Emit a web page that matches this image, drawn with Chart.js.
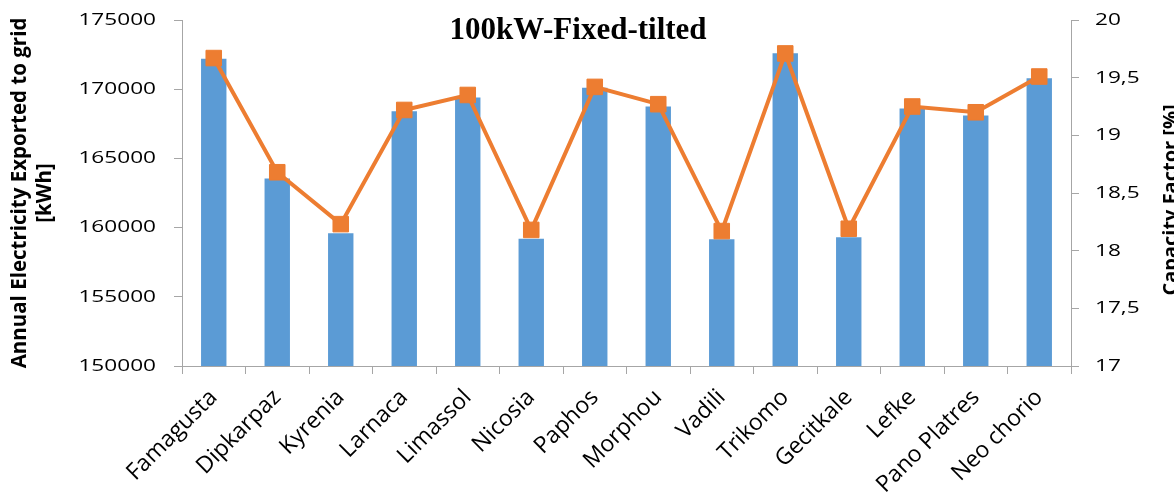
<!DOCTYPE html>
<html>
<head>
<meta charset="utf-8">
<script src="https://cdn.jsdelivr.net/npm/chart.js@4.4.1/dist/chart.umd.min.js"></script>
<style>
  html, body { margin: 0; padding: 0; background: #ffffff; }
  #wrap { position: relative; width: 1174px; height: 498px; }
</style>
</head>
<body>
<div id="wrap"><canvas id="c"></canvas></div>
<script>
const chartTitle = '100kW-Fixed-tilted';
const categories = ['Famagusta', 'Dipkarpaz', 'Kyrenia', 'Larnaca', 'Limassol', 'Nicosia', 'Paphos',
  'Morphou', 'Vadili', 'Trikomo', 'Gecitkale', 'Lefke', 'Pano Platres', 'Neo chorio'];
const energyKWh = [172200, 163550, 159600, 168400, 169400, 159200, 170100,
  168750, 159150, 172600, 159300, 168600, 168100, 170800];
const capacityFactor = [19.67, 18.68, 18.23, 19.22, 19.35, 18.18, 19.42,
  19.27, 18.17, 19.71, 18.19, 19.25, 19.20, 19.51];
const leftTitle = ['Annual Electricity Exported to grid', '[kWh]'];
const rightTitle = 'Capacity Factor [%]';
const leftTicks = [150000, 155000, 160000, 165000, 170000, 175000];
const rightTicks = ['17', '17,5', '18', '18,5', '19', '19,5', '20'];

// Wide y-tick lettering: stretch the 17px tick text horizontally around its anchor
const STRETCH = 1.33;
const origFill = CanvasRenderingContext2D.prototype.fillText;
CanvasRenderingContext2D.prototype.fillText = function (t, x, y, mw) {
  const f = this.font || '';
  if (!/(^|\s)17px/.test(f) || /bold|700/.test(f)) {
    return mw === undefined ? origFill.call(this, t, x, y) : origFill.call(this, t, x, y, mw);
  }
  this.save();
  this.translate(x, y);
  this.scale(STRETCH, 1);
  if (mw === undefined) origFill.call(this, t, 0, 0); else origFill.call(this, t, 0, 0, mw / STRETCH);
  this.restore();
};

const axisGray = '#a6a6a6';

const overlay = {
  id: 'overlay',
  afterDraw(chart) {
    const ctx = chart.ctx;
    ctx.save();
    ctx.fillStyle = '#000000';
    ctx.font = 'bold 31px "Liberation Serif", "Times New Roman", serif';
    ctx.textAlign = 'center';
    ctx.textBaseline = 'middle';
    ctx.fillText(chartTitle, 578, 31);
    ctx.restore();

    ctx.save();
    ctx.fillStyle = '#000000';
    ctx.font = 'bold 20px "Open Sans", sans-serif';
    ctx.translate(1177, 200);
    ctx.rotate(-Math.PI / 2);
    ctx.textAlign = 'center';
    ctx.textBaseline = 'alphabetic';
    ctx.fillText(rightTitle, 0, 0);
    ctx.restore();
  }
};

function fixVertical(width) {
  return function (scale) {
    scale.width = width;
    scale.paddingTop = 8;
    scale.paddingBottom = 8;
  };
}

new Chart(document.getElementById('c'), {
  type: 'bar',
  data: {
    labels: categories,
    datasets: [
      {
        type: 'line',
        label: 'Capacity Factor',
        data: capacityFactor,
        yAxisID: 'y1',
        borderColor: '#ED7D31',
        backgroundColor: '#ED7D31',
        borderWidth: 4,
        pointStyle: 'rect',
        pointRadius: 11,
        pointBorderWidth: 1,
        pointBackgroundColor: '#ED7D31',
        pointBorderColor: '#ED7D31',
        tension: 0,
        order: 0
      },
      {
        type: 'bar',
        label: 'Annual Electricity Exported to grid',
        data: energyKWh,
        yAxisID: 'y',
        backgroundColor: '#5B9BD5',
        borderWidth: 0,
        barPercentage: 0.8,
        categoryPercentage: 0.5,
        order: 1
      }
    ]
  },
  options: {
    responsive: true,
    maintainAspectRatio: false,
    animation: false,
    layout: { padding: { top: 20, left: 0, right: 0, bottom: 0 } },
    plugins: {
      legend: { display: false },
      tooltip: { enabled: false },
      title: { display: false }
    },
    scales: {
      x: {
        grid: {
          display: true,
          drawOnChartArea: false,
          drawTicks: true,
          tickLength: 8,
          color: axisGray,
          offset: true
        },
        border: { display: true, color: axisGray, width: 1 },
        ticks: {
          color: '#000000',
          font: { family: '"Open Sans", sans-serif', size: 23 },
          maxRotation: 45,
          minRotation: 45,
          padding: 10,
          autoSkip: false
        },
        afterFit(scale) { scale.height = 132; }
      },
      y: {
        position: 'left',
        min: 150000,
        max: 175000,
        afterBuildTicks(scale) { scale.ticks = leftTicks.map(v => ({ value: v })); },
        grid: {
          display: true,
          drawOnChartArea: false,
          drawTicks: true,
          tickLength: 8,
          color: axisGray
        },
        border: { display: true, color: axisGray, width: 1 },
        ticks: {
          color: '#000000',
          font: { family: '"Open Sans", sans-serif', size: 17 },
          padding: 18,
          callback: (v) => String(v)
        },
        title: {
          display: true,
          text: leftTitle,
          color: '#000000',
          font: { family: '"Open Sans", sans-serif', size: 20.5, weight: 'bold' },
          padding: { top: 8, bottom: 0 }
        },
        afterFit: fixVertical(182)
      },
      y1: {
        position: 'right',
        min: 17,
        max: 20,
        afterBuildTicks(scale) { scale.ticks = rightTicks.map(s => ({ value: parseFloat(s.replace(',', '.')) })); },
        grid: {
          display: true,
          drawOnChartArea: false,
          drawTicks: true,
          tickLength: 8,
          color: axisGray
        },
        border: { display: true, color: axisGray, width: 1 },
        ticks: {
          color: '#000000',
          font: { family: '"Open Sans", sans-serif', size: 17 },
          padding: 16,
          callback: (v) => {
            const i = rightTicks.findIndex(s => parseFloat(s.replace(',', '.')) === v);
            return i >= 0 ? rightTicks[i] : '';
          }
        },
        afterFit: fixVertical(103)
      }
    }
  },
  plugins: [overlay]
});
</script>
</body>
</html>
